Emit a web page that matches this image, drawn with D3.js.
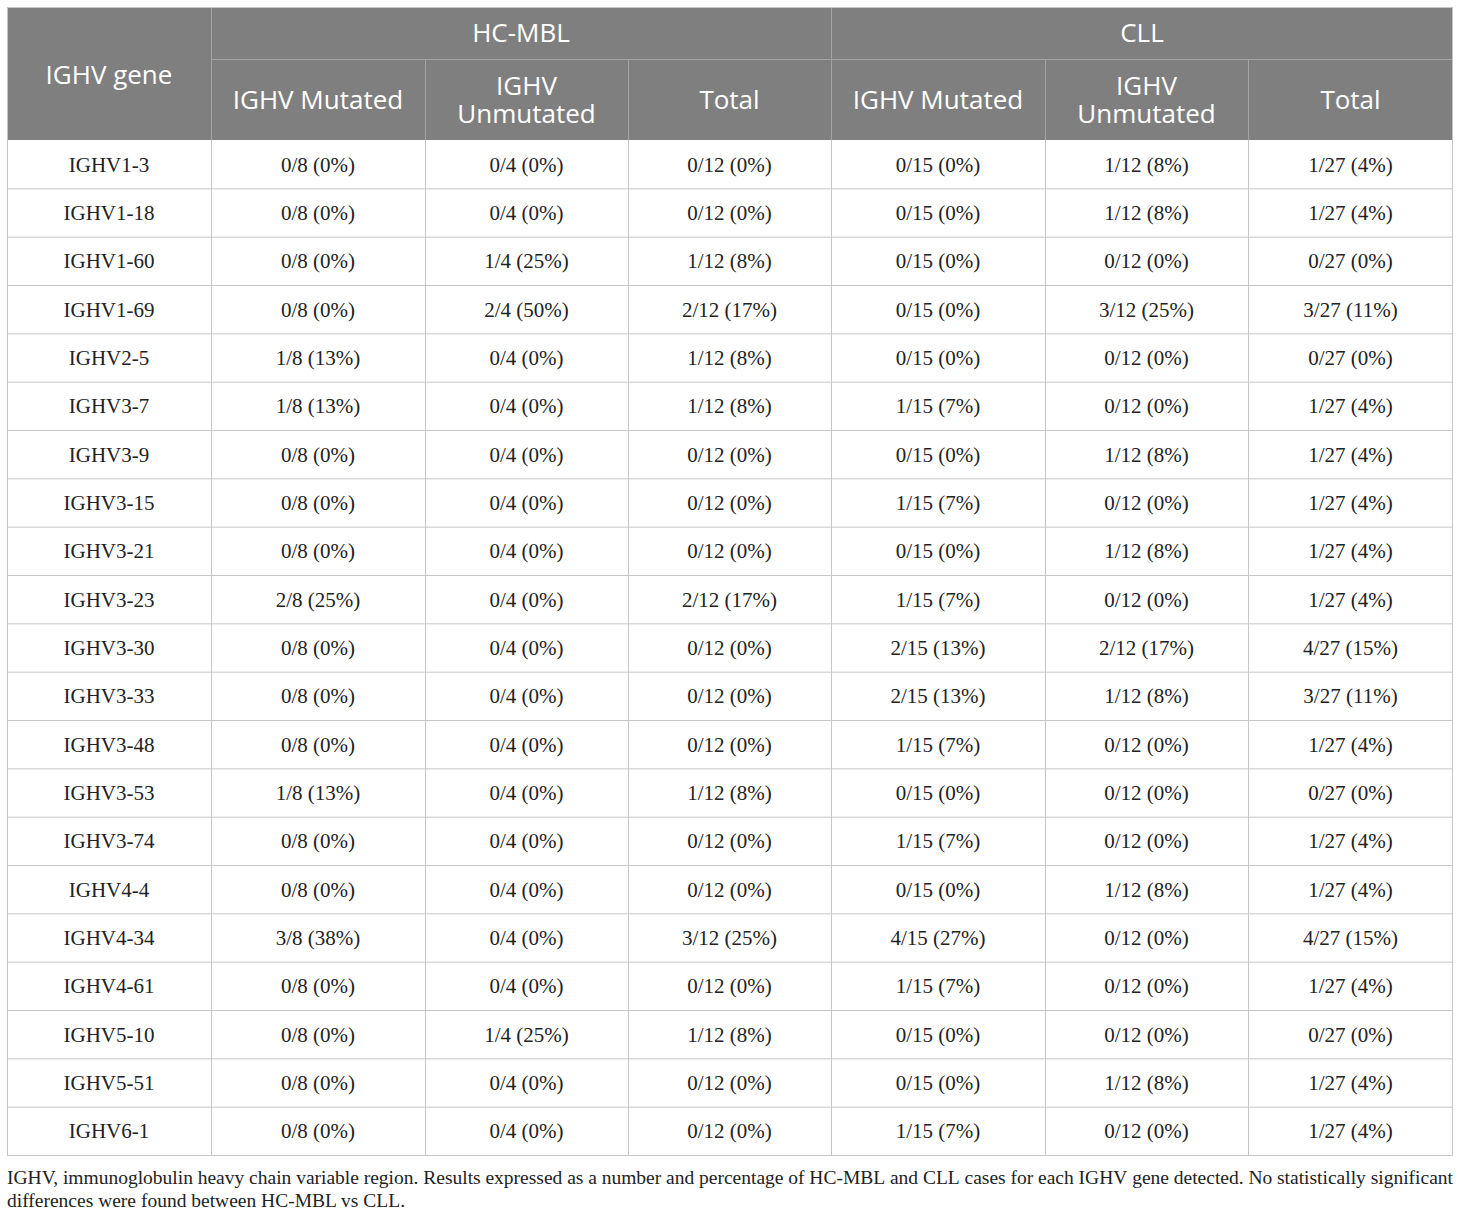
<!DOCTYPE html>
<html>
<head>
<meta charset="utf-8">
<script src="https://cdn.jsdelivr.net/npm/d3@7"></script>
<style>
  body { margin: 0; background: #fff; }
</style>
</head>
<body>
<div id="table"></div>
<script>
// gene names (rows)
var genes = ['IGHV1-3', 'IGHV1-18', 'IGHV1-60', 'IGHV1-69', 'IGHV2-5', 'IGHV3-7', 'IGHV3-9',
  'IGHV3-15', 'IGHV3-21', 'IGHV3-23', 'IGHV3-30', 'IGHV3-33', 'IGHV3-48', 'IGHV3-53',
  'IGHV3-74', 'IGHV4-4', 'IGHV4-34', 'IGHV4-61', 'IGHV5-10', 'IGHV5-51', 'IGHV6-1'];

var groups = ['HC-MBL', 'CLL'];
var subCols = [['IGHV Mutated'], ['IGHV', 'Unmutated'], ['Total']];

// case counts per column, and the group sizes
var mblMutated   = [0, 0, 0, 0, 1, 1, 0, 0, 0, 2, 0, 0, 0, 1, 0, 0, 3, 0, 0, 0, 0];
var mblUnmutated = [0, 0, 1, 2, 0, 0, 0, 0, 0, 0, 0, 0, 0, 0, 0, 0, 0, 0, 1, 0, 0];
var mblTotal     = [0, 0, 1, 2, 1, 1, 0, 0, 0, 2, 0, 0, 0, 1, 0, 0, 3, 0, 1, 0, 0];
var cllMutated   = [0, 0, 0, 0, 0, 1, 0, 1, 0, 1, 2, 2, 1, 0, 1, 0, 4, 1, 0, 0, 1];
var cllUnmutated = [1, 1, 0, 3, 0, 0, 1, 0, 1, 0, 2, 1, 0, 0, 0, 1, 0, 0, 0, 1, 0];
var cllTotal     = [1, 1, 0, 3, 0, 1, 1, 1, 1, 1, 4, 3, 1, 0, 1, 1, 4, 1, 0, 1, 1];
var groupSizes = [8, 4, 12, 15, 12, 27];

var footLines = [
  'IGHV, immunoglobulin heavy chain variable region. Results expressed as a number and percentage of HC-MBL and CLL cases for each IGHV gene detected. No statistically significant',
  'differences were found between HC-MBL vs CLL.'
];

var columns = [mblMutated, mblUnmutated, mblTotal, cllMutated, cllUnmutated, cllTotal];

// layout
var W = 1460, H = 1213;
var tLeft = 7, tRight = 1453, tTop = 7;
var head1 = 52, head2 = 81;
var bodyTop = tTop + head1 + head2, bodyBottom = 1155;
var colWidths = [204, 214, 203, 203, 214, 203, 205];
var edges = [tLeft];
colWidths.forEach(function (w) { edges.push(edges[edges.length - 1] + w); });
edges[edges.length - 1] = tRight;

var sansFont = '"Open Sans", sans-serif';
var serifFont = '"Liberation Serif", "Times New Roman", serif';
var headBg = '#7f7f7f', headLine = '#a3a3a3', bodyLine = '#c6c6c6';

var svg = d3.select('#table')
  .append('svg')
  .attr('width', W)
  .attr('height', H);

var y = d3.scaleBand()
  .domain(genes)
  .range([bodyTop, bodyBottom]);

function colMid(i) { return (edges[i] + edges[i + 1]) / 2; }

// header background
svg.append('rect')
  .attr('x', tLeft).attr('y', tTop)
  .attr('width', tRight - tLeft).attr('height', head1 + head2)
  .attr('fill', headBg);

// header grid
var hg = svg.append('g').attr('stroke', headLine).attr('stroke-width', 1);
hg.append('line').attr('x1', edges[1]).attr('x2', tRight)
  .attr('y1', tTop + head1 + 0.5).attr('y2', tTop + head1 + 0.5);
[1, 4].forEach(function (i) {
  hg.append('line').attr('x1', edges[i] + 0.5).attr('x2', edges[i] + 0.5)
    .attr('y1', tTop).attr('y2', bodyTop);
});
[2, 3, 5, 6].forEach(function (i) {
  hg.append('line').attr('x1', edges[i] + 0.5).attr('x2', edges[i] + 0.5)
    .attr('y1', tTop + head1).attr('y2', bodyTop);
});

// header text
var ht = svg.append('g')
  .attr('font-family', sansFont)
  .attr('font-size', 26)
  .attr('fill', '#fff')
  .attr('text-anchor', 'middle');

ht.append('text')
  .attr('x', colMid(0)).attr('y', tTop + (head1 + head2) / 2 + 1)
  .attr('dy', '0.35em')
  .text('IGHV gene');

var lineGap = 28.5;
groups.forEach(function (g, gi) {
  ht.append('text')
    .attr('x', (edges[1 + gi * 3] + edges[4 + gi * 3]) / 2)
    .attr('y', tTop + head1 / 2)
    .attr('dy', '0.35em')
    .text(g);
  subCols.forEach(function (lines, si) {
    var ci = 1 + gi * 3 + si;
    var y0 = tTop + head1 + head2 / 2 + 0.5 - (lines.length - 1) * lineGap / 2;
    lines.forEach(function (l, li) {
      ht.append('text')
        .attr('x', colMid(ci))
        .attr('y', y0 + li * lineGap)
        .attr('dy', '0.35em')
        .text(l);
    });
  });
});

// body grid
var bg = svg.append('g').attr('stroke', bodyLine).attr('stroke-width', 1).attr('fill', 'none');
genes.forEach(function (g) {
  bg.append('line').attr('x1', tLeft).attr('x2', tRight)
    .attr('y1', y(g) + y.bandwidth() + 0.5).attr('y2', y(g) + y.bandwidth() + 0.5);
});
edges.forEach(function (e, i) {
  var xx = i === edges.length - 1 ? e - 0.5 : e + 0.5;
  bg.append('line').attr('x1', xx).attr('x2', xx)
    .attr('y1', i === 0 || i === edges.length - 1 ? tTop : bodyTop).attr('y2', bodyBottom + 1);
});
bg.append('line').attr('x1', tLeft).attr('x2', tRight)
  .attr('y1', tTop + 0.5).attr('y2', tTop + 0.5);

// body text
var bt = svg.append('g')
  .attr('font-family', serifFont)
  .attr('font-size', 21)
  .attr('fill', '#222')
  .attr('text-anchor', 'middle');

bt.selectAll('text.gene')
  .data(genes)
  .enter()
  .append('text')
  .attr('class', 'gene')
  .attr('x', colMid(0))
  .attr('y', function (d) { return y(d) + y.bandwidth() / 2; })
  .attr('dy', '0.35em')
  .text(function (d) { return d; });

columns.forEach(function (vals, ci) {
  var n = groupSizes[ci];
  bt.selectAll('text.c' + ci)
    .data(vals)
    .enter()
    .append('text')
    .attr('class', 'c' + ci)
    .attr('x', colMid(ci + 1))
    .attr('y', function (d, i) { return y(genes[i]) + y.bandwidth() / 2; })
    .attr('dy', '0.35em')
    .text(function (d) { return d + '/' + n + ' (' + Math.round(d / n * 100) + '%)'; });
});

// footnote, justified by hand
var fn = svg.append('g')
  .attr('font-family', serifFont)
  .attr('font-size', 19.5)
  .attr('fill', '#222');

footLines.forEach(function (line, li) {
  var yy = 1184 + li * 23;
  if (li === footLines.length - 1) {
    fn.append('text').attr('x', tLeft).attr('y', yy).text(line);
    return;
  }
  var words = line.split(' ');
  var widths = words.map(function (w) {
    var t = fn.append('text').text(w);
    var len = t.node().getComputedTextLength();
    t.remove();
    return len;
  });
  var gap = (tRight - tLeft - d3.sum(widths)) / (words.length - 1);
  var cx = tLeft;
  words.forEach(function (w, wi) {
    fn.append('text').attr('x', cx).attr('y', yy).text(w);
    cx += widths[wi] + gap;
  });
});
</script>
</body>
</html>
